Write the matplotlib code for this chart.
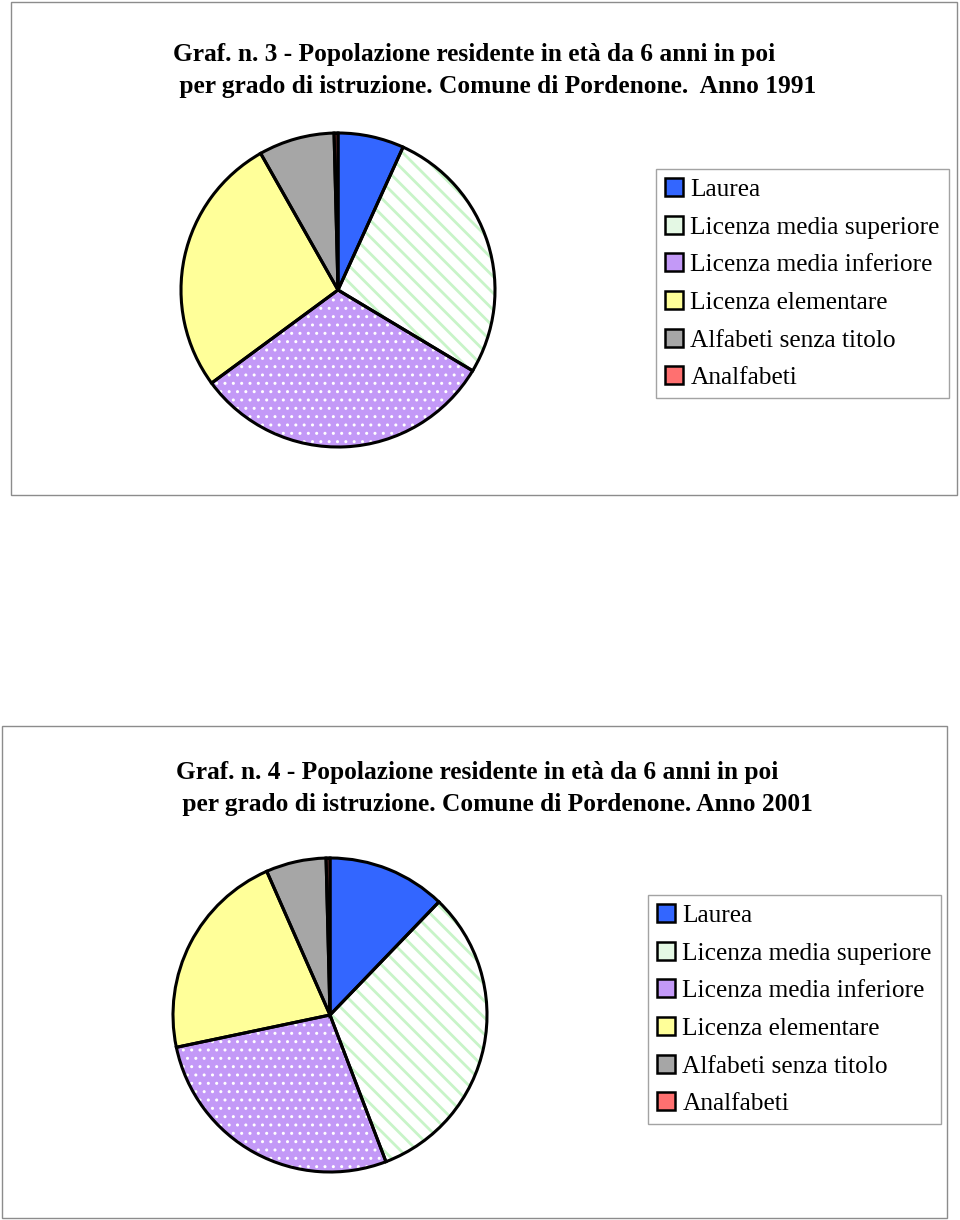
import matplotlib

matplotlib.use("Agg")
import matplotlib.pyplot as plt
from matplotlib.patches import Rectangle, Patch

plt.rcParams["font.family"] = ["Liberation Serif", "DejaVu Serif"]

# Education levels (legend order, clockwise from 12 o'clock)
categories = [
    "Laurea",
    "Licenza media superiore",
    "Licenza media inferiore",
    "Licenza elementare",
    "Alfabeti senza titolo",
    "Analfabeti",
]
# Percent shares
share_1991 = [6.8, 26.8, 31.3, 26.9, 7.8, 0.4]
share_2001 = [12.2, 32.0, 27.5, 21.7, 6.2, 0.4]

titles_1991 = [
    "Graf. n. 3 - Popolazione residente in età da 6 anni in poi",
    " per grado di istruzione. Comune di Pordenone.  Anno 1991",
]
titles_2001 = [
    "Graf. n. 4 - Popolazione residente in età da 6 anni in poi",
    " per grado di istruzione. Comune di Pordenone. Anno 2001",
]

FACE = ["#3366ff", "#ffffff", "#c399f7", "#ffff99", "#a6a6a6", "#ff7070"]
HATCH = [None, "\\\\", "..", None, None, None]
HATCH_COLOR = [None, "#c8f4c8", "#ffffff", None, None, None]
HATCH_LW = [None, 2.0, 1.0, None, None, None]

W, H = 960, 1220
fig = plt.figure(figsize=(W / 100, H / 100), dpi=100)


def fx(px):
    return px / W


def fy(py):
    return 1 - py / H


def draw_panel(box, center, radius, legend_xy, titles, title_x, title_y, values):
    x0, y0, x1, y1 = box
    fig.patches.append(
        Rectangle((fx(x0), fy(y1)), fx(x1 - x0), (y1 - y0) / H,
                  transform=fig.transFigure, facecolor="none",
                  edgecolor="#8c8c8c", linewidth=1.0)
    )
    for txt, tx, ty in zip(titles, title_x, title_y):
        fig.text(fx(tx), fy(ty), txt, ha="left", va="center",
                 fontsize=18.3, fontweight="bold")

    cx, cy = center
    ax = fig.add_axes([fx(cx - radius), fy(cy + radius),
                       2 * radius / W, 2 * radius / H])
    ax.pie(values, colors=FACE, startangle=90, counterclock=False,
           wedgeprops=dict(edgecolor="none", linewidth=0))
    # hatch overlays
    for h, hc, hlw in zip(HATCH, HATCH_COLOR, HATCH_LW):
        if h is None:
            continue
        with plt.rc_context({"hatch.linewidth": hlw}):
            wedges, _ = ax.pie(values, colors=["none"] * len(values),
                               startangle=90, counterclock=False,
                               wedgeprops=dict(linewidth=0))
        for w, hh in zip(wedges, HATCH):
            if hh != h:
                w.set_visible(False)
            else:
                w.set_hatch(h)
                w.set_edgecolor(hc)
                if hasattr(w, "set_hatch_linewidth"):
                    w.set_hatch_linewidth(hlw)
    ax.pie(values, colors=["none"] * len(values), startangle=90,
           counterclock=False,
           wedgeprops=dict(edgecolor="black", linewidth=2.2, fill=False))
    for p in ax.patches:
        p.set_clip_on(False)
    ax.set_xlim(-1, 1)
    ax.set_ylim(-1, 1)
    ax.set_axis_off()

    handles = []
    for f, h in zip(FACE, HATCH):
        handles.append(Patch(facecolor="#e4f8e4" if f == "#ffffff" else f,
                             edgecolor="black", linewidth=1.8))
    lx, ly = legend_xy
    leg = fig.legend(handles, categories, loc="upper left",
                     bbox_to_anchor=(fx(lx), fy(ly)), frameon=True,
                     fancybox=False, fontsize=18.3, handlelength=0.72,
                     handleheight=0.72, handletextpad=0.28, labelspacing=0.58,
                     borderpad=0.35, borderaxespad=0)
    fr = leg.get_frame()
    fr.set_edgecolor("#8c8c8c")
    fr.set_linewidth(1.0)


draw_panel((11, 2, 957, 495), (338, 290), 157, (656, 169),
           titles_1991, (173, 173), (55, 86), share_1991)
draw_panel((2, 726, 947, 1218), (330, 1015), 157, (648, 895),
           titles_2001, (176, 176), (773, 804), share_2001)

fig.savefig("out.png", dpi=100)
